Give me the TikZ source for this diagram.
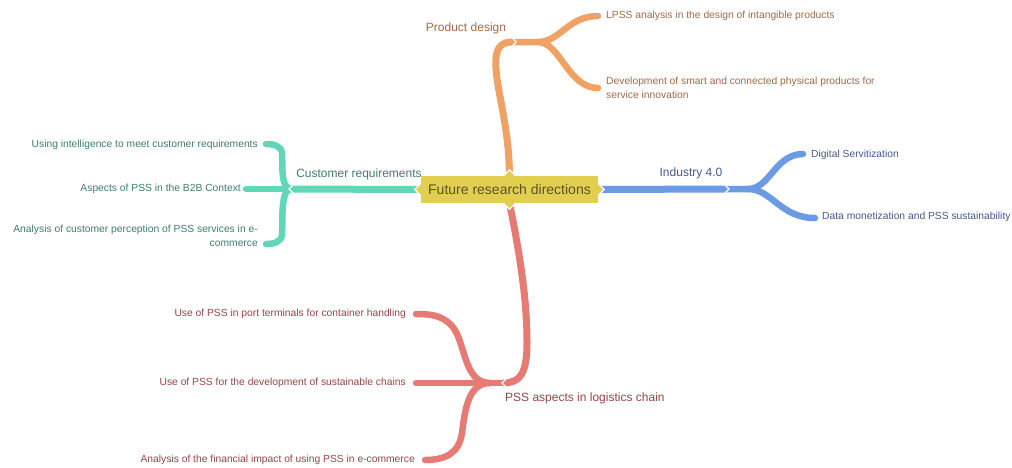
\documentclass[tikz,border=0pt]{standalone}
\usepackage{fontspec}
\setmainfont{Liberation Sans}
\usetikzlibrary{calc}
\definecolor{cYel}{HTML}{E3CF4F}
\definecolor{cYelT}{HTML}{5B5326}
\definecolor{cOr}{HTML}{F0A264}
\definecolor{cOrT}{HTML}{A06A48}
\definecolor{cTe}{HTML}{62D6B8}
\definecolor{cTeT}{HTML}{3E7D72}
\definecolor{cBl}{HTML}{6C9BE6}
\definecolor{cBlT}{HTML}{44598C}
\definecolor{cRe}{HTML}{E67A74}
\definecolor{cReT}{HTML}{94464A}
\tikzset{
  branch/.style={line width=6.5pt, line cap=round},
  trunk/.style={line width=7pt, line cap=butt},
  notch/.style={draw=white, line width=1.3pt, line join=miter},
  leaf/.style={inner sep=0pt, font=\fontsize{10.3}{14}\selectfont},
  lbl/.style={inner sep=0pt, font=\fontsize{12}{14}\selectfont},
}
\begin{document}
\begin{tikzpicture}[x=1pt,y=-1pt]
\useasboundingbox (0,0) rectangle (1012,467);
\fill[white] (0,0) rectangle (1012,467);

% ---------- central node ----------
\node[fill=cYel, minimum width=177pt, minimum height=27pt, inner sep=0pt,
      text=cYelT, font=\fontsize{14}{16}\selectfont] (c) at (509.5,189.5) {Future research directions};

% ---------- coordinates ----------
\coordinate (tJ) at (290,189);
\coordinate (tA) at (266,144);
\coordinate (tB) at (246,189);
\coordinate (tC) at (266,244);
\coordinate (oJ) at (512,42);
\coordinate (oA) at (598,16);
\coordinate (oB) at (598,88);
\coordinate (bJ) at (727,189);
\coordinate (bA) at (803,154);
\coordinate (bB) at (815,218);
\coordinate (rJ) at (503,383);
\coordinate (rA) at (416,314);
\coordinate (rB) at (416,383);
\coordinate (rC) at (425,460);

% ---------- teal ----------
\draw[branch, cTe] (tJ) -- (tB);
\draw[branch, cTe] (tJ) .. controls (280,187) and (283,162) .. (282,153) .. controls (281,146) and (274,144) .. (tA);
\draw[branch, cTe] (tJ) .. controls (280,191) and (283,226) .. (282,235) .. controls (281,242) and (274,244) .. (tC);
\draw[trunk, cTe] (c.west) -- (tJ);
\draw[notch] ($(tJ)+(5,-6)$) -- ($(tJ)+(-1,0)$) -- ($(tJ)+(5,6)$);

% ---------- orange ----------
\draw[branch, cOr] (oJ) -- (538,42) .. controls (560,42) and (568,16) .. (oA);
\draw[branch, cOr] (538,42) .. controls (560,42) and (568,88) .. (oB);
\draw[trunk, cOr] (c.north) .. controls (509,120) and (494,85) .. (496,58) .. controls (497,47) and (502,42) .. (oJ);
\draw[notch] ($(oJ)+(-1,-6)$) -- ($(oJ)+(4,0)$) -- ($(oJ)+(-1,6)$);

% ---------- blue ----------
\draw[branch, cBl] (bJ) -- (748,189) .. controls (770,189) and (775,154) .. (bA);
\draw[branch, cBl] (748,189) .. controls (772,189) and (780,218) .. (bB);
\draw[trunk, cBl] (c.east) -- (bJ);
\draw[notch] ($(bJ)+(-4,-6)$) -- ($(bJ)+(2,0)$) -- ($(bJ)+(-4,6)$);

% ---------- red ----------
\draw[branch, cRe] (rJ) -- (rB);
\draw[branch, cRe] (490,383) .. controls (463,383) and (466,342) .. (452,326) .. controls (442,315) and (430,314) .. (rA);
\draw[branch, cRe] (490,383) .. controls (468,383) and (465,410) .. (462,433) .. controls (459,453) and (446,460) .. (rC);
\draw[trunk, cRe] (c.south) .. controls (520,255) and (527,300) .. (527,342) .. controls (527,374) and (520,383) .. (rJ);
\draw[notch] ($(rJ)+(5,-6)$) -- ($(rJ)+(-1,0)$) -- ($(rJ)+(5,6)$);

% ---------- tabs of the central node ----------
\filldraw[cYel, draw=white, line width=1.2pt] (c.west)++(0,-6) -- ++(-6,6) -- ++(6,6);
\filldraw[cYel, draw=white, line width=1.2pt] (c.east)++(0,-6) -- ++(6,6) -- ++(-6,6);
\filldraw[cYel, draw=white, line width=1.2pt] (c.north)++(-6,0) -- ++(6,-6) -- ++(6,6);
\filldraw[cYel, draw=white, line width=1.2pt] (c.south)++(-6,0) -- ++(6,6) -- ++(6,-6);
\fill[cYel] ($(c.north west)+(0,0.8)$) rectangle ($(c.south east)+(0,-0.8)$);
\node[text=cYelT, font=\fontsize{14}{16}\selectfont, inner sep=0pt] (ct) at (c.center) {Future research directions};

% ---------- branch labels ----------
\node[lbl, text=cTeT] (tL) at (359,174) {Customer requirements};
\node[lbl, text=cOrT] (oL) at (466,28) {Product design};
\node[lbl, text=cBlT] (bL) at (691,173) {Industry 4.0};
\node[lbl, text=cReT, anchor=west] (rL) at (505,398) {PSS aspects in logistics chain};

% ---------- leaves ----------
\node[leaf, text=cTeT, anchor=east] (t1) at (258,145) {Using intelligence to meet customer requirements};
\node[leaf, text=cTeT, anchor=east] (t2) at (241,189) {Aspects of PSS in the B2B Context};
\node[leaf, text=cTeT, anchor=east, align=right] (t3) at (258,236) {Analysis of customer perception of PSS services in e-\\commerce};

\node[leaf, text=cOrT, anchor=west] (o1) at (606,16) {LPSS analysis in the design of intangible products};
\node[leaf, text=cOrT, anchor=west, align=left] (o2) at (606,88) {Development of smart and connected physical products for\\service innovation};

\node[leaf, text=cBlT, anchor=west] (b1) at (811,155) {Digital Servitization};
\node[leaf, text=cBlT, anchor=west] (b2) at (822,217) {Data monetization and PSS sustainability};

\node[leaf, text=cReT, anchor=east] (r1) at (406,314) {Use of PSS in port terminals for container handling};
\node[leaf, text=cReT, anchor=east] (r2) at (406,383) {Use of PSS for the development of sustainable chains};
\node[leaf, text=cReT, anchor=east] (r3) at (415,460) {Analysis of the financial impact of using PSS in e-commerce};
\end{tikzpicture}
\end{document}
